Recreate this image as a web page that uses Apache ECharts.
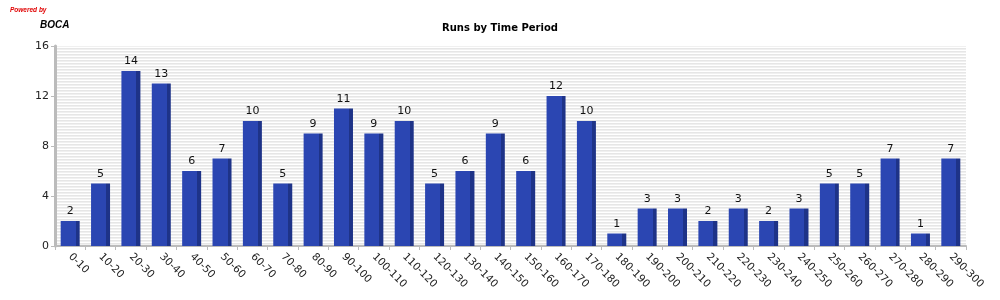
<!DOCTYPE html>
<html><head><meta charset="utf-8">
<script src="https://cdn.jsdelivr.net/npm/echarts@6/dist/echarts.min.js"></script>
<style>html,body{margin:0;padding:0;background:#fff}#c{width:1000px;height:300px}</style>
</head><body><div id="c"></div>
<script>
const categories = ['0-10','10-20','20-30','30-40','40-50','50-60','60-70','70-80','80-90','90-100','100-110','110-120','120-130','130-140','140-150','150-160','160-170','170-180','180-190','190-200','200-210','210-220','220-230','230-240','240-250','250-260','260-270','270-280','280-290','290-300'];
const runs = [2,5,14,13,6,7,10,5,9,11,9,10,5,6,9,6,12,10,1,3,3,2,3,2,3,5,5,7,1,7];
const yTicks = [0,4,8,12,16];

const pc = document.createElement('canvas');
pc.width = 4; pc.height = 3;
const ctx = pc.getContext('2d');
ctx.fillStyle = '#e6e6e6'; ctx.fillRect(0,0,4,1);
ctx.fillStyle = '#f0f0f0'; ctx.fillRect(0,1,4,1);
ctx.fillStyle = '#ffffff'; ctx.fillRect(0,2,4,1);

const chart = echarts.init(document.getElementById('c'), null, {renderer:'canvas'});
const font = 'DejaVu Sans';
chart.setOption({
  animation:false,
  textStyle:{fontFamily:font},
  title:[
    {text:'Runs by Time Period', left:'center', top:18, textStyle:{fontSize:10, fontWeight:'bold', color:'#000', fontFamily:font}},
  ],
  graphic:[
    {type:'text', left:10, top:7, style:{text:'Powered by', fill:'#e00000', font:'italic bold 6.5px Liberation Sans'}},
    {type:'text', left:40, top:20, style:{text:'BOCA', fill:'#000', font:'italic bold 10px Liberation Sans'}}
  ],
  grid:{left:55, right:34, top:46, bottom:54, show:true, borderWidth:0,
    backgroundColor:{image:pc, repeat:'repeat'}},
  xAxis:{type:'category', data:categories,
    axisLine:{lineStyle:{color:'#bbbbbb', width:2}},
    axisTick:{show:true, alignWithLabel:false, length:4, lineStyle:{color:'#bbbbbb'}},
    axisLabel:{rotate:-45, color:'#222', fontSize:10.5, fontFamily:font, margin:9, interval:0}},
  yAxis:{type:'value', min:yTicks[0], max:yTicks[yTicks.length-1], interval:4,
    axisLine:{show:true, lineStyle:{color:'#bbbbbb', width:3}},
    axisTick:{show:true, length:4, lineStyle:{color:'#bbbbbb'}},
    splitLine:{show:false},
    axisLabel:{color:'#222', fontSize:11, fontFamily:font, margin:6}},
  series:[{type:'bar', data:runs, barWidth:19,
    itemStyle:{color:{type:'linear', x:0, y:0, x2:1, y2:0, colorStops:[
      {offset:0, color:'#2b46b2'},{offset:0.79, color:'#2b46b2'},
      {offset:0.79, color:'#1e3388'},{offset:1, color:'#1e3388'}]}},
    label:{show:true, position:'top', color:'#111', fontSize:11, fontFamily:font, distance:4}
  }]
});
</script></body></html>
